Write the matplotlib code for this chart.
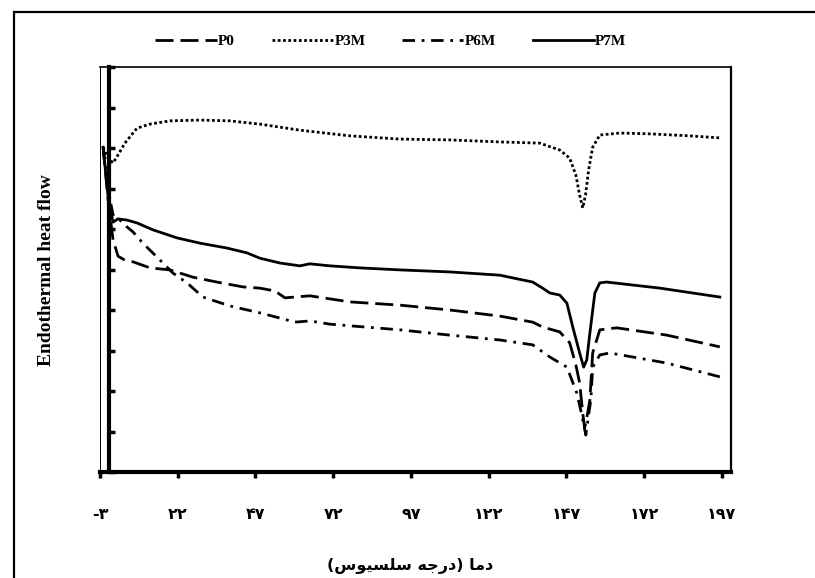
import matplotlib
matplotlib.use("Agg")
import matplotlib.pyplot as plt
from matplotlib.patches import Rectangle

# ---- data ----
t_p0 = [-2.0, -0.4, 1.2, 2.8, 5.0, 7.6, 13.1, 19.5, 26.9, 34.6, 43.0, 48.4, 53.3, 56.5,
        59.7, 64.5, 77.4, 93.5, 109.5, 125.6, 136.2, 139.4, 144.9, 148.1, 150.1, 151.3,
        152.3, 152.9, 153.6, 154.6, 155.5, 157.8, 163.2, 179.3, 196.4]
y_p0 = [8.02, 6.72, 5.73, 5.33, 5.23, 5.19, 5.04, 4.99, 4.81, 4.69, 4.57, 4.54, 4.47, 4.30,
        4.32, 4.35, 4.20, 4.12, 4.00, 3.85, 3.70, 3.58, 3.46, 3.19, 2.64, 2.20,
        1.46, 1.09, 1.33, 1.78, 2.94, 3.51, 3.56, 3.38, 3.09]

t_p3m = [-2.0, -0.4, 1.2, 2.8, 5.0, 8.9, 13.1, 19.5, 29.2, 38.8, 48.4, 61.3, 77.4, 93.5,
         109.5, 125.6, 138.5, 144.9, 148.1, 150.1, 151.3, 152.3, 153.2, 154.2, 155.5,
         157.8, 164.2, 173.8, 186.7, 196.4]
y_p3m = [8.02, 7.75, 7.63, 7.83, 8.12, 8.49, 8.59, 8.67, 8.69, 8.67, 8.59, 8.44, 8.30, 8.22,
         8.20, 8.15, 8.12, 7.95, 7.75, 7.33, 6.84, 6.52, 6.84, 7.46, 8.02,
         8.32, 8.37, 8.35, 8.30, 8.25]

t_p6m = [-2.0, -0.4, 1.2, 3.4, 5.7, 7.6, 10.8, 15.3, 20.5, 25.0, 30.1, 38.8, 48.4, 54.9,
         59.7, 64.5, 71.0, 93.5, 109.5, 125.6, 136.2, 141.7, 147.2, 150.4, 152.0, 153.3,
         154.2, 154.9, 155.5, 157.8, 161.0, 179.3, 196.4]
y_p6m = [8.02, 6.96, 6.35, 6.22, 6.05, 5.93, 5.65, 5.31, 4.91, 4.67, 4.32, 4.10, 3.93, 3.80,
         3.70, 3.73, 3.65, 3.51, 3.38, 3.26, 3.14, 2.84, 2.59, 1.95, 1.41, 0.91,
         1.41, 1.78, 2.59, 2.89, 2.94, 2.69, 2.35]

t_p7m = [-2.0, -1.1, -0.1, 1.2, 2.8, 5.7, 8.9, 14.0, 21.8, 29.2, 37.8, 44.3, 48.4, 54.9,
         61.3, 64.5, 71.0, 80.6, 93.5, 109.5, 125.6, 136.2, 139.4, 141.7, 144.9, 147.2,
         149.1, 151.3, 152.6, 153.6, 154.6, 156.2, 157.8, 160.0, 177.1, 196.4]
y_p7m = [8.02, 7.33, 6.59, 6.17, 6.25, 6.22, 6.15, 5.98, 5.78, 5.65, 5.53, 5.41, 5.28, 5.16,
         5.09, 5.14, 5.09, 5.04, 4.99, 4.94, 4.86, 4.69, 4.54, 4.42, 4.37, 4.17,
         3.58, 2.94, 2.59, 2.77, 3.43, 4.42, 4.67, 4.69, 4.54, 4.32]

series_names = ["P0", "P3M", "P6M", "P7M"]
x_ticks = [-3, 22, 47, 72, 97, 122, 147, 172, 197]
x_tick_labels = ["-\u06F3", "\u06F2\u06F2", "\u06F4\u06F7", "\u06F7\u06F2", "\u06F9\u06F7",
                 "\u06F1\u06F2\u06F2", "\u06F1\u06F4\u06F7", "\u06F1\u06F7\u06F2", "\u06F1\u06F9\u06F7"]
y_ticks = list(range(0, 11))
y_label = "Endothermal heat flow"
# "دما (درجه سلسیوس)" in visual (shaped, right-to-left) order
x_label = "(\uFEB1\uFEEE\uFEF4\uFEB4\uFEE0\uFEB3 \uFEEA\uFE9F\uFEAD\uFEA9) \uFE8E\uFEE3\uFEA9"

# ---- figure ----
W, H = 815, 578
fig = plt.figure(figsize=(W / 100, H / 100), dpi=100)
fig.patch.set_facecolor("white")

# outer frame (left and top edges visible)
fig.add_artist(Rectangle((14 / W, -0.2), 2.0, 1 - 12 / H + 0.2, transform=fig.transFigure,
                         fill=False, lw=1.6, edgecolor="black"))

ax = fig.add_axes([100 / W, 1 - 472 / H, (731 - 100) / W, (472 - 67) / H])
ax.set_xlim(-3, 200)
ax.set_ylim(0, 10)

styles = {
    "P0": (0, (6.5, 2.5)),
    "P3M": (0, (1, 0.9)),
    "P6M": (0, (4.5, 2.4, 1, 2.4)),
    "P7M": "-",
}
data = {"P0": (t_p0, y_p0), "P3M": (t_p3m, y_p3m), "P6M": (t_p6m, y_p6m), "P7M": (t_p7m, y_p7m)}
handles = []
for name in series_names:
    t, y = data[name]
    ln, = ax.plot(t, y, color="black", lw=2.0, linestyle=styles[name],
                  solid_joinstyle="round", label=name)
    handles.append(ln)

# spines
ax.spines["left"].set_position(("data", 0))
ax.spines["left"].set_linewidth(3.0)
ax.spines["bottom"].set_linewidth(3.0)
ax.spines["top"].set_linewidth(1.2)
ax.spines["right"].set_linewidth(1.6)
ax.axvline(-3, color="black", lw=1.4)

ax.set_yticks(y_ticks)
ax.set_yticklabels([])
ax.tick_params(axis="y", direction="in", length=4, width=2.5)
ax.set_xticks(x_ticks)
ax.set_xticklabels(x_tick_labels, family=["DejaVu Sans"], fontweight="bold", fontsize=11.5)
ax.tick_params(axis="x", direction="out", length=4, width=2.5, pad=21)

fig.text(47 / W, 1 - 270 / H, y_label, rotation=90, ha="center", va="center",
         family=["Liberation Serif"], fontweight="bold", fontsize=14)
fig.text(410 / W, 1 - 566 / H, x_label, ha="center", va="center",
         family=["DejaVu Sans"], fontweight="bold", fontsize=11.5)

fig.legend(handles=handles, labels=series_names, loc="center", bbox_to_anchor=(391 / W, 1 - 41 / H),
           ncol=4, frameon=False, handlelength=4.0, handletextpad=0.1, columnspacing=2.4,
           prop={"family": "Liberation Serif", "weight": "bold", "size": 11})

fig.savefig("out.png", dpi=100, facecolor="white")
